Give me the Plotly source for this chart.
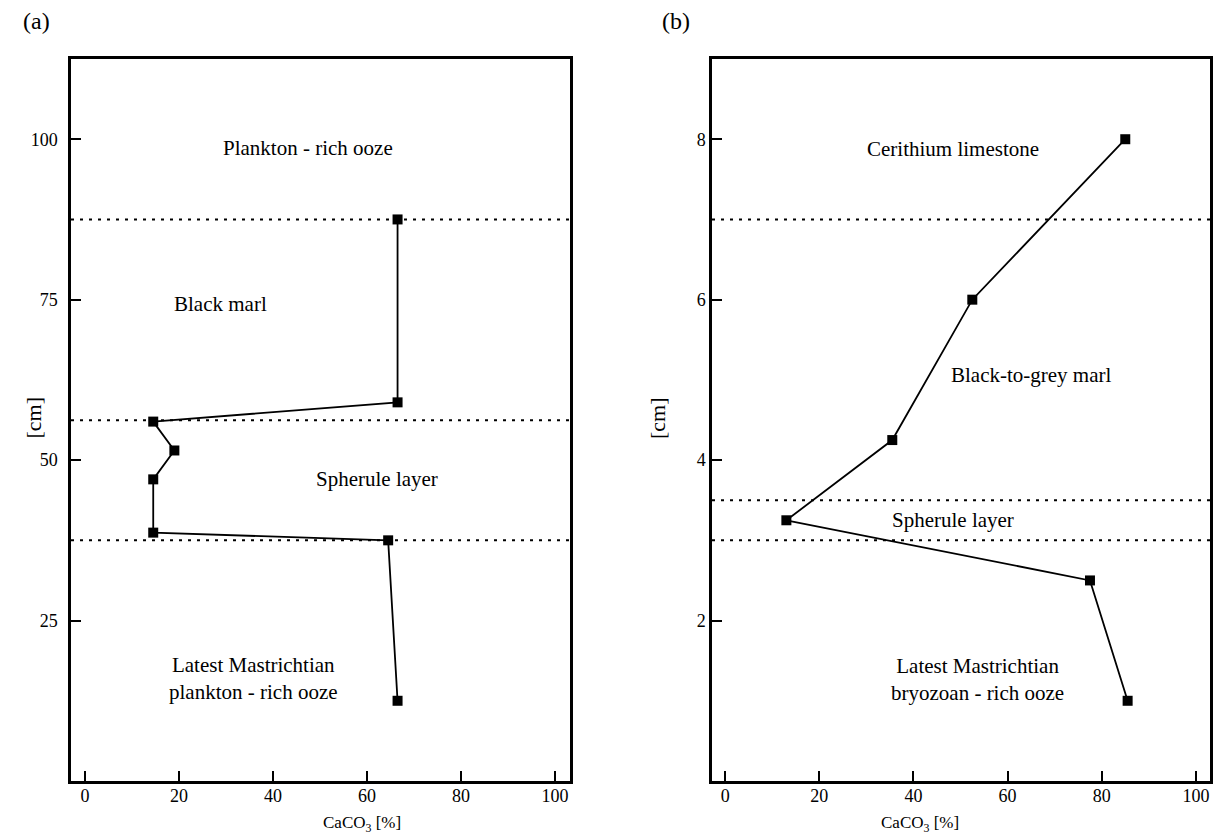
import plotly.graph_objects as go

# Panel (a)
a_caco3 = [66.5, 66.5, 14.5, 19.0, 14.5, 14.5, 64.5, 66.5]
a_depth = [87.5, 59.0, 56.0, 51.5, 47.0, 38.7, 37.5, 12.5]
a_bounds = [87.5, 56.2, 37.5]
a_labels = ["Plankton - rich ooze", "Black marl", "Spherule layer",
            "Latest Mastrichtian<br>plankton - rich ooze"]
a_label_x = [47.4, 28.8, 62.2, 35.9]
a_label_y = [98.7, 74.3, 47.1, 16.0]
a_yticks = [25, 50, 75, 100]

# Panel (b)
b_caco3 = [85.0, 52.5, 35.5, 13.0, 77.5, 85.5]
b_depth = [8.0, 6.0, 4.25, 3.25, 2.5, 1.0]
b_bounds = [7.0, 3.5, 3.0]
b_labels = ["Cerithium limestone", "Black-to-grey marl", "Spherule layer",
            "Latest Mastrichtian<br>bryozoan - rich ooze"]
b_label_x = [48.3, 65.0, 48.3, 53.5]
b_label_y = [7.88, 5.06, 3.25, 1.27]
b_yticks = [2, 4, 6, 8]

xticks = [0, 20, 40, 60, 80, 100]

FONT = "Times New Roman, Liberation Serif, DejaVu Serif, serif"
W, H = 1217, 837

fig = go.Figure()
fig.add_trace(go.Scatter(x=a_caco3, y=a_depth, mode="lines+markers",
                         line=dict(color="black", width=1.8),
                         marker=dict(symbol="square", size=10, color="black"),
                         xaxis="x", yaxis="y", showlegend=False))
fig.add_trace(go.Scatter(x=b_caco3, y=b_depth, mode="lines+markers",
                         line=dict(color="black", width=1.8),
                         marker=dict(symbol="square", size=10, color="black"),
                         xaxis="x2", yaxis="y2", showlegend=False))

shapes = []
for yv in a_bounds:
    shapes.append(dict(type="line", xref="x domain", yref="y", x0=0, x1=1, y0=yv, y1=yv,
                       line=dict(color="black", width=2, dash="3px,6px"), layer="below"))
for yv in b_bounds:
    shapes.append(dict(type="line", xref="x2 domain", yref="y2", x0=0, x1=1, y0=yv, y1=yv,
                       line=dict(color="black", width=2, dash="3px,6px"), layer="below"))

LBL = 21
annotations = []
for t, x, y in zip(a_labels, a_label_x, a_label_y):
    annotations.append(dict(text=t, x=x, y=y, xref="x", yref="y", showarrow=False,
                            font=dict(size=LBL, family=FONT, color="black")))
for t, x, y in zip(b_labels, b_label_x, b_label_y):
    annotations.append(dict(text=t, x=x, y=y, xref="x2", yref="y2", showarrow=False,
                            font=dict(size=LBL, family=FONT, color="black")))
annotations.append(dict(text="(a)", x=21 / W, y=1 - 21 / H, xref="paper", yref="paper",
                        xanchor="left", yanchor="middle", showarrow=False,
                        font=dict(size=24, family=FONT, color="black")))
annotations.append(dict(text="(b)", x=660 / W, y=1 - 21 / H, xref="paper", yref="paper",
                        xanchor="left", yanchor="middle", showarrow=False,
                        font=dict(size=24, family=FONT, color="black")))
for cx in [(71 + 570) / 2, (712 + 1210) / 2]:
    annotations.append(dict(text="CaCO<sub>3</sub> [%]", x=cx / W, y=0, xref="paper",
                            yref="paper", yanchor="bottom", showarrow=False,
                            font=dict(size=17, family=FONT, color="black")))
for cx in [18, 657]:
    annotations.append(dict(text="[cm]", x=cx / W, y=1 - 418 / H, xref="paper", yref="paper",
                            showarrow=False, textangle=-90,
                            font=dict(size=22, family=FONT, color="black")))

axis_common = dict(showline=True, mirror=True, linecolor="black", linewidth=2.5,
                   ticks="inside", ticklen=10, tickwidth=2, tickcolor="black",
                   showgrid=False, zeroline=False,
                   tickfont=dict(size=18, family=FONT, color="black"))

top = 1 - 59 / H
bot = 1 - 781 / H
fig.update_layout(
    width=W, height=H,
    margin=dict(l=0, r=0, t=0, b=0),
    paper_bgcolor="white", plot_bgcolor="white",
    font=dict(family=FONT, color="black"),
    xaxis=dict(domain=[71 / W, 570 / W], range=[-3, 103.2], tickvals=xticks, anchor="y",
               ticklabelstandoff=-3, **axis_common),
    yaxis=dict(domain=[bot, top], range=[0, 112.5], tickvals=a_yticks, anchor="x",
               ticklabelstandoff=7, **axis_common),
    xaxis2=dict(domain=[712 / W, 1210 / W], range=[-2.8, 103], tickvals=xticks, anchor="y2",
                ticklabelstandoff=-3, **axis_common),
    yaxis2=dict(domain=[bot, top], range=[0, 9.0], tickvals=b_yticks, anchor="x2",
                **axis_common),
    shapes=shapes,
    annotations=annotations,
)

fig.write_html("out.html", config={"displayModeBar": False},
               post_script="document.body.style.margin='0';"
                           "document.documentElement.style.overflow='hidden';")
